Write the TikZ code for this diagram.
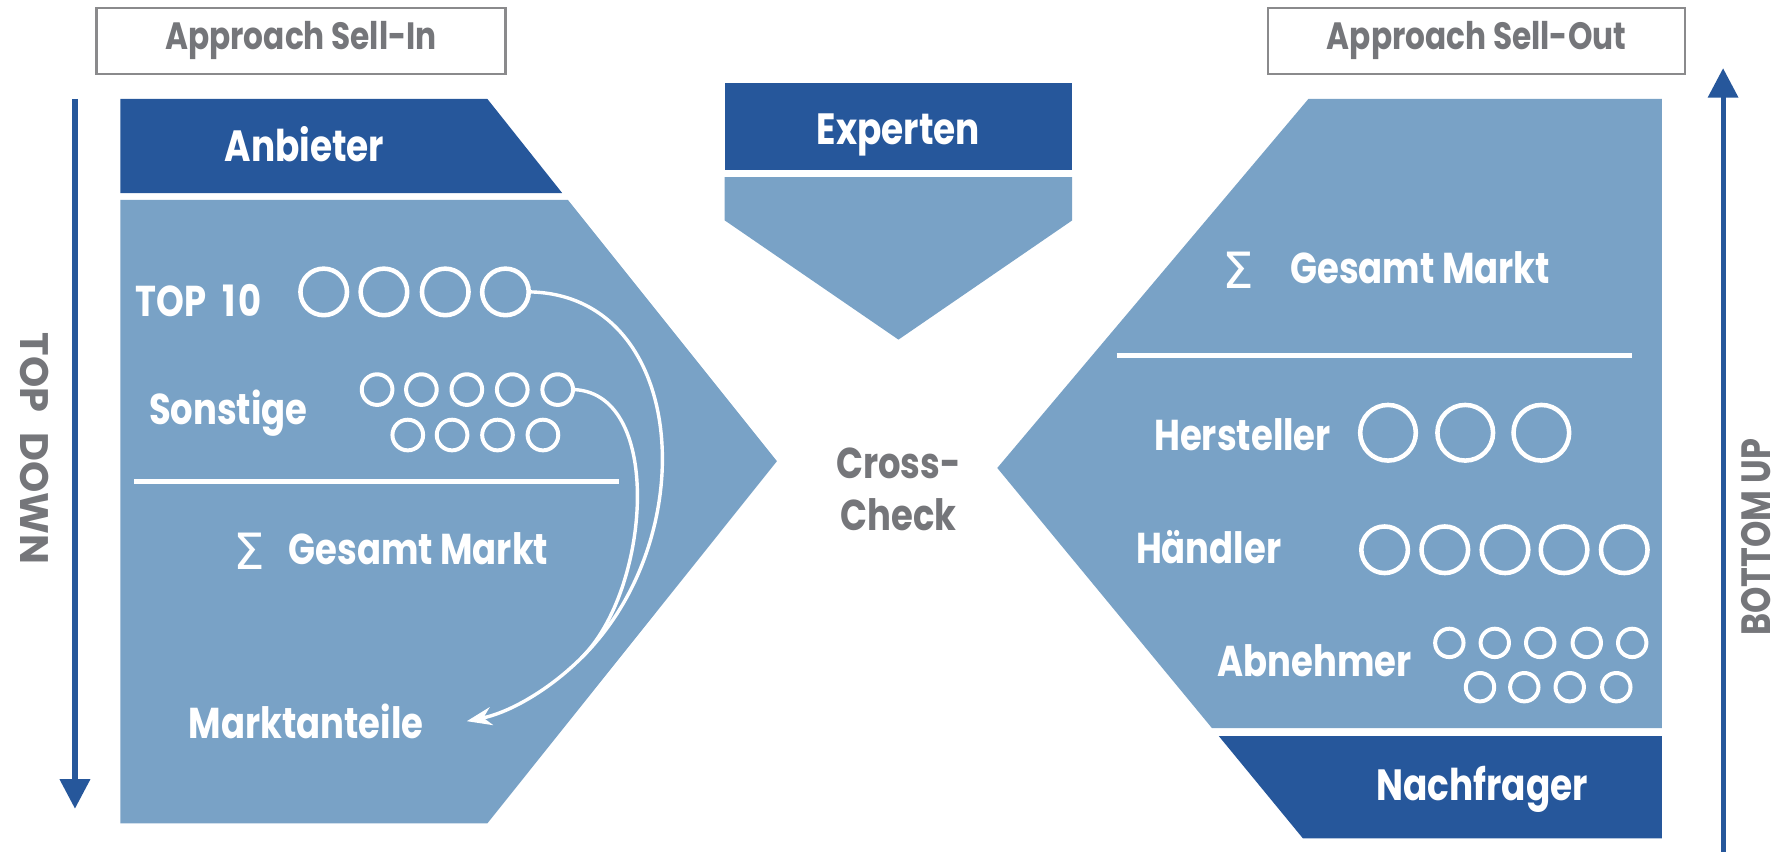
\documentclass[tikz,border=0pt]{standalone}
\usepackage{fontspec}
\setmainfont{Poppins}[FakeStretch=0.82]
\newfontfamily\widefont{Poppins}
\newfontfamily\sigmafont{DejaVu Sans}
\usepackage{tikz}
\usetikzlibrary{arrows.meta, positioning}
\definecolor{darkblue}{RGB}{38,87,155}
\definecolor{lightblue}{RGB}{121,162,198}
\definecolor{textgray}{RGB}{117,118,122}
\definecolor{boxgray}{RGB}{138,138,140}
\tikzset{
  lbl/.style={text=white, inner sep=0pt, font=\fontsize{38}{40}\selectfont\bfseries},
  head/.style={lbl, font=\fontsize{38.5}{42}\selectfont\bfseries},
  graytxt/.style={text=textgray, inner sep=0pt, font=\fontsize{36}{38}\selectfont\bfseries},
  approach/.style={draw=boxgray, line width=2pt, text=textgray, minimum height=58pt,
    inner sep=0pt, font=\fontsize{33.5}{36}\selectfont\bfseries},
  ring/.style={circle, draw=white, line width=4pt, inner sep=0pt, minimum size=#1},
  sep/.style={white, line width=5pt},
  way/.style={darkblue, line width=4.5pt, -{Triangle[length=26pt,width=26pt]}},
  share/.style={white, line width=3pt, line cap=round},
}
\newcommand{\summe}[1]{{\sigmafont\mdseries\fontsize{44}{46}\selectfont\raisebox{-4pt}{Σ}}\hspace{#1}}
\begin{document}
\begin{tikzpicture}[x=1pt, y=-1pt]
\useasboundingbox (0,0) rectangle (1568,750);
% sell-in side
\node[approach, minimum width=360pt] (sellin) at (265,36) {Approach Sell-In};
\fill[darkblue] (106,87) -- (429,87) -- (495,170) -- (106,170) -- cycle;
\fill[lightblue] (106,176) -- (500,176) -- (684,406) -- (429,725) -- (106,725) -- cycle;
\node[head, anchor=base] (anbieter) at (268,142) {Anbieter};
\node[lbl, anchor=base west] (top10) at (119,279) {TOP\hspace{14pt}1\hspace{3pt}0};
\foreach \i/\x in {1/285,2/338,3/392,4/445}
  \node[ring=41pt] (t\i) at (\x,257) {};
\node[lbl, anchor=base west] (sonst) at (131,374) {Sonstige};
\foreach \i/\x in {1/332,2/371,3/411,4/451,5/491}
  \node[ring=27pt, line width=3.5pt] (s\i) at (\x,343) {};
\foreach \i/\x in {6/359,7/398,8/438,9/478}
  \node[ring=27pt, line width=3.5pt] (s\i) at (\x,383) {};
\coordinate (lsepa) at (118,424);
\coordinate (lsepb) at (545,424);
\draw[sep] (lsepa) -- (lsepb);
\node[lbl, anchor=base west] (lsum) at (205,497) {\summe{21pt}Gesamt Markt};
\node[lbl, anchor=base west] (markt) at (166,650) {Marktanteile};
\coordinate[right=38pt of markt.east] (mtend);
\coordinate (merge) at (512,579);
\draw[share] (t4.east) .. controls (605,261) and (620,472) .. (merge);
\draw[share] (s5.east) .. controls (585,348) and (572,520) .. (merge);
\draw[share, -{Stealth[length=22pt,width=16pt]}] (merge) .. controls (485,606) and (450,627) .. (mtend);
\coordinate (tdtop) at (66,87);
\coordinate (tdbot) at (66,712);
\draw[way] (tdtop) -- (tdbot);
\node[graytxt, font=\widefont\fontsize{35}{38}\selectfont\bfseries, rotate=-90] (topdown) at (30,395) {TOP\hspace{18pt}DOWN};
% experts
\fill[darkblue] (638,73) rectangle (944,150);
\fill[lightblue] (638,156) -- (944,156) -- (944,194) -- (791,299) -- (638,194) -- cycle;
\node[head, anchor=base] (experten) at (791,127) {Experten};
\node[graytxt, font=\fontsize{38}{46}\selectfont\bfseries, align=center] (cross) at (791,431) {Cross-\\Check};
% sell-out side
\node[approach, minimum width=367pt] (sellout) at (1300,36) {Approach Sell-Out};
\fill[lightblue] (1152,87) -- (1463,87) -- (1463,641) -- (1067,641) -- (878,412) -- cycle;
\fill[darkblue] (1073,648) -- (1463,648) -- (1463,738) -- (1147,738) -- cycle;
\node[head, anchor=base] (nachfrager) at (1305,705) {Nachfrager};
\node[lbl, anchor=base west] (rsum) at (1076,250) {\summe{32pt}Gesamt Markt};
\coordinate (rsepa) at (983,313);
\coordinate (rsepb) at (1437,313);
\draw[sep] (rsepa) -- (rsepb);
\node[lbl, anchor=base west] (herst) at (1016,397) {Hersteller};
\foreach \i/\x in {1/1222,2/1290,3/1357}
  \node[ring=49pt] (h\i) at (\x,381) {};
\node[lbl, anchor=base west] (haendler) at (1000,496) {Händler};
\foreach \i/\x in {1/1219,2/1272,3/1325,4/1377,5/1430}
  \node[ring=41pt] (d\i) at (\x,484) {};
\node[lbl, anchor=base west] (abn) at (1072,596) {Abnehmer};
\foreach \i/\x in {1/1276,2/1316,3/1356,4/1397,5/1437}
  \node[ring=25pt, line width=3.5pt] (a\i) at (\x,566) {};
\foreach \i/\x in {6/1303,7/1342,8/1382,9/1423}
  \node[ring=25pt, line width=3.5pt] (a\i) at (\x,605) {};
\coordinate (bubot) at (1517,750);
\coordinate (butop) at (1517,60);
\draw[way] (bubot) -- (butop);
\node[graytxt, rotate=90] (bottomup) at (1546,473) {BOTTOM UP};
\end{tikzpicture}
\end{document}
